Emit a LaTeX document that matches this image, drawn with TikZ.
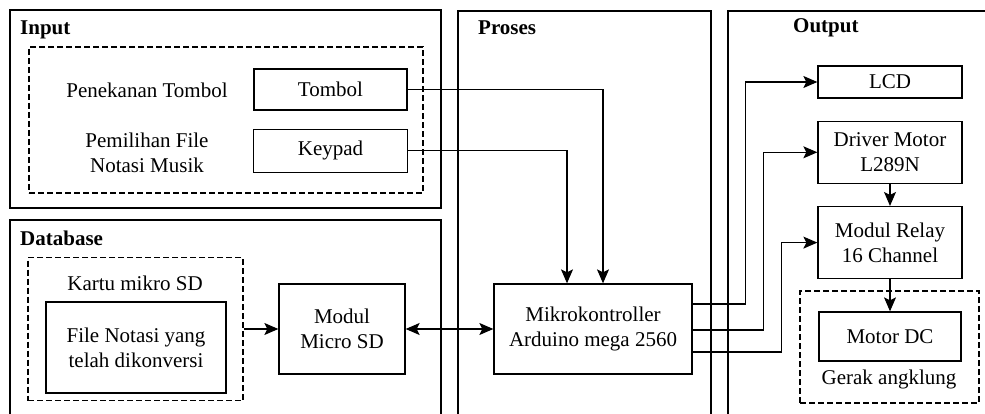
\documentclass[tikz,border=0pt]{standalone}
\usepackage{fontspec}
\setmainfont{LiberationSerif}[Extension=.ttf, UprightFont=*-Regular, BoldFont=*-Bold]
\usetikzlibrary{arrows.meta, positioning, calc}

\begin{document}
\begin{tikzpicture}[
    x=1pt, y=-1pt,
    font=\fontsize{21}{25}\selectfont,
    every node/.style={align=center},
    arrow/.style={-{Stealth[length=14pt, width=12pt, inset=3pt]}, line width=1.2pt},
    dblarrow/.style={{Stealth[length=14pt, width=12pt, inset=3pt]}-{Stealth[length=14pt, width=12pt, inset=3pt]}, line width=1.2pt},
]

% --- Style definitions ---
\tikzset{
    panel/.style = {draw, line width=1.6pt},
    block/.style = {draw, line width=1.3pt, inner sep=0pt},
    groupbox/.style = {draw, line width=1.1pt, dash pattern=on 6pt off 3pt, inner sep=0pt},
    paneltitle/.style = {font=\fontsize{21}{25}\selectfont\bfseries, anchor=west, inner sep=0pt},
    lbl/.style = {inner sep=0pt},
}

\useasboundingbox (0,0) rectangle (985,414);

% --- Panels ---
\draw [panel] (10,10) rectangle (441,208);
\draw [panel] (10,414) |- (441,220) -- (441,414);
\draw [panel] (458,414) |- (711,11) -- (711,414);
\draw [panel] (728,414) |- (985,11);

\node (inputtitle) [paneltitle] at (20,30) {Input};
\node (dbtitle) [paneltitle] at (20,238) {Database};
\node (prosestitle) [paneltitle] at (478,28) {Proses};
\node (outputtitle) [paneltitle] at (793,28) {Output};

% --- Input ---
\node (inputgroup) [groupbox, minimum width=394, minimum height=146] at (226,120) {};
\node (tombol) [block, minimum width=153, minimum height=41] at (330.5,89.5) {Tombol};
\node (keypad) [block, minimum width=154, minimum height=43, below=18pt of tombol] {Keypad};
\node (press) [lbl] at (147,90) {Penekanan Tombol};
\node (select) [lbl] at (147,153) {Pemilihan File\\Notasi Musik};

% --- Database ---
\node (sdcard) [groupbox, minimum width=215, minimum height=143] at (135.5,329) {};
\node (sdlabel) [lbl] at (135,283) {Kartu mikro SD};
\node (notefile) [block, minimum width=180, minimum height=91] at (136,347.5) {File Notasi yang\\telah dikonversi};
\node (sdmodule) [block, minimum width=126, minimum height=90] at (342,329) {Modul\\Micro SD};

% --- Proses ---
\node (mcu) [block, minimum width=198, minimum height=90] at (593,329) {Mikrokontroller\\Arduino mega 2560};

% --- Output ---
\node (lcd) [block, minimum width=144, minimum height=32] at (890,82) {LCD};
\node (driver) [block, minimum width=144, minimum height=62, below=22pt of lcd] {Driver Motor\\L289N};
\node (relay) [block, minimum width=144, minimum height=72, below=22pt of driver] {Modul Relay\\16 Channel};
\node (motorgroup) [groupbox, minimum width=179, minimum height=112] at (889.5,347) {};
\node (motordc) [block, minimum width=142, minimum height=49] at (890,336.5) {Motor DC};
\node (gerak) [lbl] at (889,379) {Gerak angklung};

% --- Arrows ---
\draw [arrow] (tombol.east) -| ($(mcu.north)+(10,0)$);
\draw [arrow] (keypad.east) -| ($(mcu.north)+(-26,0)$);
\draw [arrow] (sdcard.east) -- (sdmodule.west);
\draw [dblarrow] (sdmodule.east) -- (mcu.west);
\draw [arrow] ($(mcu.east)+(0,-25)$) -| ($(lcd.west)+(-72,0)$) -- (lcd.west);
\draw [arrow] ($(mcu.east)+(0,1)$) -| ($(driver.west)+(-54,0)$) -- (driver.west);
\draw [arrow] ($(mcu.east)+(0,23)$) -| ($(relay.west)+(-36,0)$) -- (relay.west);
\draw [arrow] (driver.south) -- (relay.north);
\draw [arrow] (relay.south) -- (motordc.north);

\end{tikzpicture}
\end{document}
